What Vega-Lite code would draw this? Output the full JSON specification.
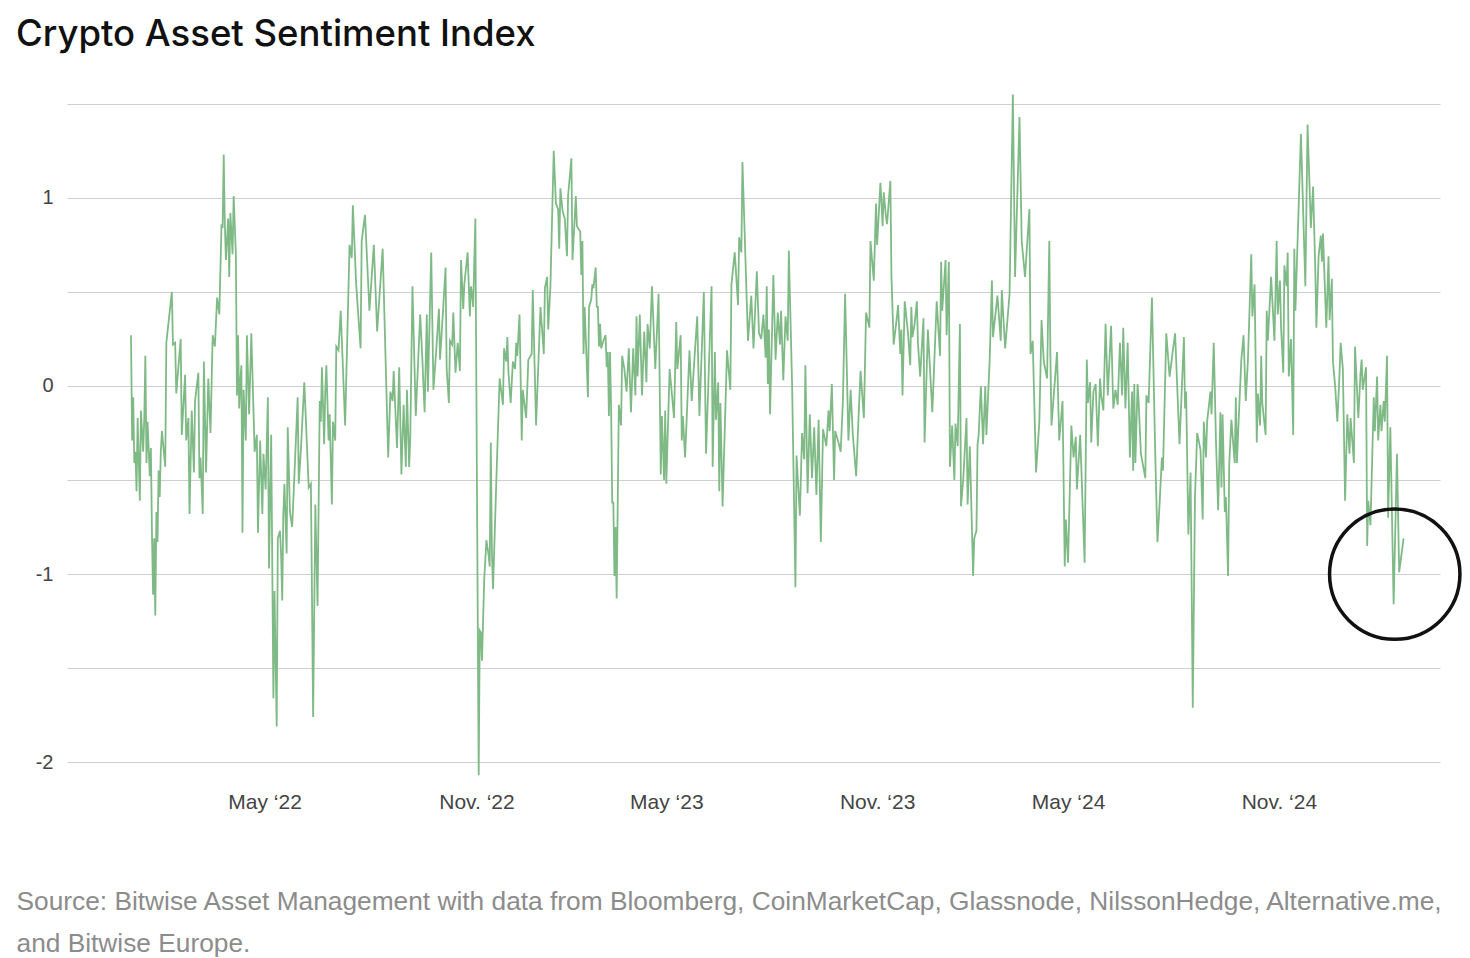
{
  "$schema": "https://vega.github.io/schema/vega-lite/v6.json",
  "width": 1373,
  "height": 696,
  "autosize": {"type": "none"},
  "padding": {"left": 67, "top": 85, "right": 30, "bottom": 177},
  "background": "white",
  "title": {"text": "Crypto Asset Sentiment Index", "anchor": "start", "frame": "group", "dx": -51, "offset": 37, "dy": 34, "baseline": "alphabetic", "font": "Inter", "fontSize": 36.5, "fontWeight": 500, "color": "#111111"},
  "config": {"view": {"stroke": null}},
  "datasets": {
    "sentiment": [
      {"date":"2021-12-29","value":0.27},{"date":"2021-12-30","value":-0.29},{"date":"2021-12-31","value":-0.06},
      {"date":"2022-01-01","value":-0.41},{"date":"2022-01-02","value":-0.35},{"date":"2022-01-03","value":-0.56},{"date":"2022-01-04","value":-0.17},{"date":"2022-01-06","value":-0.61},{"date":"2022-01-07","value":-0.13},{"date":"2022-01-09","value":-0.35},{"date":"2022-01-10","value":-0.18},{"date":"2022-01-11","value":0.16},{"date":"2022-01-12","value":-0.41},{"date":"2022-01-13","value":-0.19},{"date":"2022-01-15","value":-0.48},{"date":"2022-01-16","value":-0.33},{"date":"2022-01-17","value":-0.79},{"date":"2022-01-18","value":-1.11},{"date":"2022-01-19","value":-0.81},{"date":"2022-01-20","value":-1.22},{"date":"2022-01-21","value":-0.67},{"date":"2022-01-22","value":-0.83},{"date":"2022-01-23","value":-0.45},{"date":"2022-01-24","value":-0.59},{"date":"2022-01-25","value":-0.35},{"date":"2022-01-26","value":-0.24},{"date":"2022-01-29","value":-0.43},{"date":"2022-01-30","value":0.23},
      {"date":"2022-02-04","value":0.50},{"date":"2022-02-05","value":0.22},{"date":"2022-02-07","value":0.23},{"date":"2022-02-08","value":-0.04},{"date":"2022-02-12","value":0.25},{"date":"2022-02-13","value":-0.26},{"date":"2022-02-16","value":0.06},{"date":"2022-02-17","value":-0.29},{"date":"2022-02-19","value":-0.17},{"date":"2022-02-20","value":-0.68},{"date":"2022-02-22","value":-0.13},{"date":"2022-02-24","value":-0.46},{"date":"2022-02-25","value":-0.08},{"date":"2022-02-28","value":0.07},
      {"date":"2022-03-01","value":-0.49},{"date":"2022-03-02","value":-0.38},{"date":"2022-03-04","value":-0.68},{"date":"2022-03-05","value":0.13},{"date":"2022-03-07","value":-0.46},{"date":"2022-03-09","value":0.04},{"date":"2022-03-11","value":-0.25},{"date":"2022-03-13","value":0.27},{"date":"2022-03-15","value":0.21},{"date":"2022-03-17","value":0.47},{"date":"2022-03-19","value":0.38},{"date":"2022-03-21","value":0.86},{"date":"2022-03-22","value":0.84},{"date":"2022-03-23","value":1.23},{"date":"2022-03-24","value":0.86},{"date":"2022-03-25","value":0.67},{"date":"2022-03-27","value":0.89},{"date":"2022-03-28","value":0.58},{"date":"2022-03-29","value":0.92},{"date":"2022-03-31","value":0.70},
      {"date":"2022-04-01","value":1.01},{"date":"2022-04-03","value":0.70},{"date":"2022-04-04","value":-0.05},{"date":"2022-04-05","value":0.27},{"date":"2022-04-06","value":-0.12},{"date":"2022-04-07","value":0.02},{"date":"2022-04-08","value":0.11},{"date":"2022-04-09","value":-0.78},{"date":"2022-04-10","value":-0.02},{"date":"2022-04-12","value":-0.29},{"date":"2022-04-13","value":0.27},{"date":"2022-04-15","value":-0.15},{"date":"2022-04-17","value":0.28},{"date":"2022-04-20","value":-0.35},{"date":"2022-04-22","value":-0.26},{"date":"2022-04-23","value":-0.78},{"date":"2022-04-25","value":-0.29},{"date":"2022-04-27","value":-0.68},{"date":"2022-04-28","value":-0.36},{"date":"2022-04-30","value":-0.55},
      {"date":"2022-05-02","value":-0.06},{"date":"2022-05-03","value":-0.97},{"date":"2022-05-05","value":-0.26},{"date":"2022-05-07","value":-1.66},{"date":"2022-05-08","value":-1.09},{"date":"2022-05-10","value":-1.81},{"date":"2022-05-11","value":-0.81},{"date":"2022-05-13","value":-0.77},{"date":"2022-05-14","value":-0.90},{"date":"2022-05-15","value":-1.14},{"date":"2022-05-16","value":-0.68},{"date":"2022-05-17","value":-0.52},{"date":"2022-05-19","value":-0.89},{"date":"2022-05-20","value":-0.22},{"date":"2022-05-22","value":-0.67},{"date":"2022-05-24","value":-0.75},{"date":"2022-05-26","value":-0.48},{"date":"2022-05-29","value":-0.06},{"date":"2022-05-30","value":-0.52},
      {"date":"2022-06-01","value":-0.33},{"date":"2022-06-04","value":0.02},{"date":"2022-06-08","value":-0.54},{"date":"2022-06-10","value":-0.52},{"date":"2022-06-12","value":-1.76},{"date":"2022-06-14","value":-0.63},{"date":"2022-06-16","value":-1.17},{"date":"2022-06-18","value":-0.08},{"date":"2022-06-19","value":-0.19},{"date":"2022-06-20","value":0.10},{"date":"2022-06-22","value":-0.31},{"date":"2022-06-23","value":-0.03},{"date":"2022-06-24","value":0.11},{"date":"2022-06-26","value":-0.29},{"date":"2022-06-27","value":-0.15},{"date":"2022-06-29","value":-0.63},{"date":"2022-06-30","value":-0.19},
      {"date":"2022-07-02","value":-0.29},{"date":"2022-07-03","value":0.21},{"date":"2022-07-05","value":0.19},{"date":"2022-07-07","value":0.40},{"date":"2022-07-11","value":-0.21},{"date":"2022-07-15","value":0.75},{"date":"2022-07-17","value":0.68},{"date":"2022-07-18","value":0.96},{"date":"2022-07-21","value":0.54},{"date":"2022-07-25","value":0.20},{"date":"2022-07-26","value":0.77},{"date":"2022-07-29","value":0.91},
      {"date":"2022-08-02","value":0.40},{"date":"2022-08-06","value":0.75},{"date":"2022-08-09","value":0.29},{"date":"2022-08-14","value":0.73},{"date":"2022-08-19","value":-0.38},{"date":"2022-08-21","value":-0.03},{"date":"2022-08-23","value":-0.08},{"date":"2022-08-24","value":0.08},{"date":"2022-08-27","value":-0.33},{"date":"2022-08-29","value":0.10},{"date":"2022-08-31","value":-0.47},
      {"date":"2022-09-02","value":-0.10},{"date":"2022-09-04","value":-0.43},{"date":"2022-09-05","value":-0.02},{"date":"2022-09-07","value":-0.43},{"date":"2022-09-08","value":-0.28},{"date":"2022-09-10","value":0.53},{"date":"2022-09-13","value":-0.16},{"date":"2022-09-17","value":0.38},{"date":"2022-09-19","value":0.14},{"date":"2022-09-21","value":-0.14},{"date":"2022-09-23","value":0.38},{"date":"2022-09-24","value":-0.03},{"date":"2022-09-27","value":0.71},{"date":"2022-09-29","value":-0.02},
      {"date":"2022-10-02","value":0.23},{"date":"2022-10-04","value":0.41},{"date":"2022-10-05","value":0.14},{"date":"2022-10-07","value":0.33},{"date":"2022-10-10","value":0.63},{"date":"2022-10-11","value":0.09},{"date":"2022-10-13","value":-0.09},{"date":"2022-10-14","value":0.24},{"date":"2022-10-16","value":0.22},{"date":"2022-10-17","value":0.39},{"date":"2022-10-19","value":0.07},{"date":"2022-10-21","value":0.23},{"date":"2022-10-23","value":0.08},{"date":"2022-10-24","value":0.67},{"date":"2022-10-26","value":0.41},{"date":"2022-10-27","value":0.54},{"date":"2022-10-30","value":0.71},
      {"date":"2022-11-01","value":0.37},{"date":"2022-11-02","value":0.53},{"date":"2022-11-03","value":0.49},{"date":"2022-11-04","value":0.42},{"date":"2022-11-06","value":0.89},{"date":"2022-11-09","value":-2.07},{"date":"2022-11-10","value":-1.30},{"date":"2022-11-11","value":-1.31},{"date":"2022-11-12","value":-1.46},{"date":"2022-11-14","value":-1.03},{"date":"2022-11-16","value":-0.82},{"date":"2022-11-18","value":-0.90},{"date":"2022-11-19","value":-0.96},{"date":"2022-11-20","value":-0.30},{"date":"2022-11-21","value":-0.89},{"date":"2022-11-22","value":-1.08},{"date":"2022-11-25","value":-0.50},{"date":"2022-11-28","value":0.04},
      {"date":"2022-12-01","value":-0.10},{"date":"2022-12-02","value":0.20},{"date":"2022-12-04","value":0.13},{"date":"2022-12-05","value":0.26},{"date":"2022-12-06","value":0.07},{"date":"2022-12-08","value":-0.09},{"date":"2022-12-10","value":0.13},{"date":"2022-12-12","value":0.09},{"date":"2022-12-13","value":0.23},{"date":"2022-12-14","value":0.16},{"date":"2022-12-16","value":0.38},{"date":"2022-12-18","value":-0.29},{"date":"2022-12-19","value":-0.02},{"date":"2022-12-22","value":-0.17},{"date":"2022-12-24","value":0.14},{"date":"2022-12-27","value":0.17},{"date":"2022-12-28","value":0.51},{"date":"2022-12-31","value":-0.21},
      {"date":"2023-01-04","value":0.42},{"date":"2023-01-07","value":0.17},{"date":"2023-01-08","value":0.52},{"date":"2023-01-10","value":0.58},{"date":"2023-01-11","value":0.30},{"date":"2023-01-13","value":0.53},{"date":"2023-01-16","value":1.25},{"date":"2023-01-18","value":0.97},{"date":"2023-01-20","value":0.94},{"date":"2023-01-21","value":0.73},{"date":"2023-01-22","value":1.05},{"date":"2023-01-24","value":0.93},{"date":"2023-01-26","value":0.89},{"date":"2023-01-28","value":0.69},{"date":"2023-01-29","value":1.01},
      {"date":"2023-02-01","value":1.21},{"date":"2023-02-02","value":0.67},{"date":"2023-02-04","value":0.89},{"date":"2023-02-05","value":1.01},{"date":"2023-02-06","value":0.85},{"date":"2023-02-09","value":0.82},{"date":"2023-02-10","value":0.59},{"date":"2023-02-11","value":0.77},{"date":"2023-02-12","value":0.17},{"date":"2023-02-13","value":0.42},{"date":"2023-02-16","value":-0.06},{"date":"2023-02-17","value":0.42},{"date":"2023-02-19","value":0.46},{"date":"2023-02-20","value":0.54},{"date":"2023-02-21","value":0.52},{"date":"2023-02-23","value":0.63},{"date":"2023-02-24","value":0.42},{"date":"2023-02-25","value":0.42},{"date":"2023-02-26","value":0.21},{"date":"2023-02-27","value":0.33},{"date":"2023-02-28","value":0.20},
      {"date":"2023-03-02","value":0.24},{"date":"2023-03-04","value":0.27},{"date":"2023-03-05","value":0.10},{"date":"2023-03-06","value":0.18},{"date":"2023-03-07","value":-0.16},{"date":"2023-03-08","value":0.18},{"date":"2023-03-09","value":-0.12},{"date":"2023-03-10","value":-0.62},{"date":"2023-03-11","value":-0.62},{"date":"2023-03-12","value":-1.01},{"date":"2023-03-13","value":-0.75},{"date":"2023-03-14","value":-1.13},{"date":"2023-03-16","value":-0.10},{"date":"2023-03-18","value":-0.21},{"date":"2023-03-19","value":0.16},{"date":"2023-03-21","value":0.09},{"date":"2023-03-23","value":-0.03},{"date":"2023-03-25","value":0.20},{"date":"2023-03-27","value":-0.14},{"date":"2023-03-29","value":0.20},{"date":"2023-03-31","value":-0.05},
      {"date":"2023-04-01","value":0.37},{"date":"2023-04-02","value":0.05},{"date":"2023-04-04","value":0.38},{"date":"2023-04-06","value":-0.05},{"date":"2023-04-08","value":0.29},{"date":"2023-04-10","value":0.02},{"date":"2023-04-11","value":0.33},{"date":"2023-04-13","value":0.20},{"date":"2023-04-15","value":0.53},{"date":"2023-04-18","value":0.09},{"date":"2023-04-21","value":0.49},{"date":"2023-04-23","value":-0.47},{"date":"2023-04-24","value":-0.16},{"date":"2023-04-26","value":-0.50},{"date":"2023-04-27","value":-0.13},{"date":"2023-04-28","value":-0.52},
      {"date":"2023-05-01","value":0.09},{"date":"2023-05-05","value":-0.17},{"date":"2023-05-07","value":0.34},{"date":"2023-05-08","value":0.09},{"date":"2023-05-11","value":0.27},{"date":"2023-05-12","value":-0.29},{"date":"2023-05-13","value":-0.16},{"date":"2023-05-15","value":-0.38},{"date":"2023-05-19","value":0.19},{"date":"2023-05-21","value":-0.08},{"date":"2023-05-26","value":0.37},{"date":"2023-05-28","value":-0.16},
      {"date":"2023-06-01","value":0.50},{"date":"2023-06-03","value":-0.36},{"date":"2023-06-08","value":0.53},{"date":"2023-06-09","value":-0.43},{"date":"2023-06-11","value":0.18},{"date":"2023-06-12","value":-0.18},{"date":"2023-06-14","value":0.02},{"date":"2023-06-15","value":-0.56},{"date":"2023-06-16","value":-0.09},{"date":"2023-06-18","value":-0.64},{"date":"2023-06-22","value":0.19},{"date":"2023-06-25","value":-0.02},{"date":"2023-06-26","value":0.54},{"date":"2023-06-29","value":0.71},
      {"date":"2023-07-02","value":0.43},{"date":"2023-07-03","value":0.79},{"date":"2023-07-05","value":0.71},{"date":"2023-07-06","value":1.19},{"date":"2023-07-11","value":0.24},{"date":"2023-07-14","value":0.48},{"date":"2023-07-16","value":0.20},{"date":"2023-07-19","value":0.61},{"date":"2023-07-21","value":0.28},{"date":"2023-07-23","value":0.25},{"date":"2023-07-25","value":0.38},{"date":"2023-07-27","value":0.15},{"date":"2023-07-28","value":0.53},{"date":"2023-07-29","value":0.01},{"date":"2023-07-30","value":0.30},{"date":"2023-07-31","value":-0.15},
      {"date":"2023-08-03","value":0.59},{"date":"2023-08-05","value":0.14},{"date":"2023-08-07","value":0.39},{"date":"2023-08-09","value":0.22},{"date":"2023-08-10","value":0.40},{"date":"2023-08-12","value":0.03},{"date":"2023-08-14","value":0.37},{"date":"2023-08-16","value":0.24},{"date":"2023-08-17","value":0.72},{"date":"2023-08-20","value":0.00},{"date":"2023-08-23","value":-1.07},{"date":"2023-08-24","value":-0.37},{"date":"2023-08-27","value":-0.69},{"date":"2023-08-29","value":-0.25},{"date":"2023-08-31","value":-0.39},
      {"date":"2023-09-01","value":0.11},{"date":"2023-09-03","value":-0.57},{"date":"2023-09-05","value":-0.15},{"date":"2023-09-07","value":-0.49},{"date":"2023-09-09","value":-0.22},{"date":"2023-09-11","value":-0.58},{"date":"2023-09-13","value":-0.18},{"date":"2023-09-15","value":-0.83},{"date":"2023-09-17","value":-0.23},{"date":"2023-09-20","value":-0.32},{"date":"2023-09-22","value":-0.13},{"date":"2023-09-23","value":-0.24},{"date":"2023-09-25","value":0.01},{"date":"2023-09-27","value":-0.50},{"date":"2023-09-28","value":-0.24},
      {"date":"2023-10-01","value":-0.30},{"date":"2023-10-03","value":-0.35},{"date":"2023-10-05","value":-0.08},{"date":"2023-10-07","value":0.49},{"date":"2023-10-10","value":-0.29},{"date":"2023-10-12","value":-0.02},{"date":"2023-10-14","value":-0.26},{"date":"2023-10-17","value":-0.48},{"date":"2023-10-19","value":-0.19},{"date":"2023-10-21","value":0.08},{"date":"2023-10-24","value":-0.17},{"date":"2023-10-26","value":0.39},{"date":"2023-10-29","value":0.31},{"date":"2023-10-30","value":0.77},
      {"date":"2023-11-02","value":0.56},{"date":"2023-11-04","value":0.97},{"date":"2023-11-05","value":0.75},{"date":"2023-11-08","value":1.08},{"date":"2023-11-10","value":0.85},{"date":"2023-11-11","value":1.03},{"date":"2023-11-13","value":0.90},{"date":"2023-11-14","value":0.86},{"date":"2023-11-17","value":1.09},{"date":"2023-11-18","value":0.58},{"date":"2023-11-20","value":0.22},{"date":"2023-11-23","value":0.37},{"date":"2023-11-24","value":0.43},{"date":"2023-11-26","value":0.17},{"date":"2023-11-27","value":0.30},{"date":"2023-11-28","value":-0.05},{"date":"2023-11-30","value":0.45},
      {"date":"2023-12-03","value":0.28},{"date":"2023-12-05","value":0.11},{"date":"2023-12-06","value":0.42},{"date":"2023-12-07","value":0.26},{"date":"2023-12-09","value":0.33},{"date":"2023-12-11","value":0.45},{"date":"2023-12-12","value":0.23},{"date":"2023-12-14","value":0.05},{"date":"2023-12-17","value":0.36},{"date":"2023-12-18","value":-0.30},{"date":"2023-12-21","value":0.30},{"date":"2023-12-25","value":-0.14},{"date":"2023-12-29","value":0.45},
      {"date":"2024-01-01","value":0.16},{"date":"2024-01-02","value":0.66},{"date":"2024-01-03","value":0.40},{"date":"2024-01-06","value":0.67},{"date":"2024-01-07","value":0.27},{"date":"2024-01-09","value":0.66},{"date":"2024-01-10","value":-0.43},{"date":"2024-01-12","value":-0.21},{"date":"2024-01-14","value":-0.50},{"date":"2024-01-15","value":-0.20},{"date":"2024-01-17","value":-0.32},{"date":"2024-01-19","value":0.33},{"date":"2024-01-20","value":-0.64},{"date":"2024-01-22","value":-0.50},{"date":"2024-01-25","value":-0.17},{"date":"2024-01-26","value":-0.63},{"date":"2024-01-28","value":-0.32},{"date":"2024-01-31","value":-1.01},
      {"date":"2024-02-01","value":-0.81},{"date":"2024-02-03","value":-0.77},{"date":"2024-02-04","value":-0.31},{"date":"2024-02-05","value":-0.26},{"date":"2024-02-07","value":0.00},{"date":"2024-02-09","value":-0.31},{"date":"2024-02-11","value":0.00},{"date":"2024-02-12","value":-0.26},{"date":"2024-02-15","value":0.14},{"date":"2024-02-17","value":0.56},{"date":"2024-02-18","value":0.26},{"date":"2024-02-20","value":0.37},{"date":"2024-02-22","value":0.48},{"date":"2024-02-25","value":0.24},{"date":"2024-02-26","value":0.51},{"date":"2024-02-29","value":0.20},
      {"date":"2024-03-04","value":0.49},{"date":"2024-03-07","value":1.55},{"date":"2024-03-09","value":0.58},{"date":"2024-03-13","value":1.43},{"date":"2024-03-15","value":0.77},{"date":"2024-03-18","value":0.58},{"date":"2024-03-22","value":0.94},{"date":"2024-03-23","value":0.17},{"date":"2024-03-25","value":0.24},{"date":"2024-03-28","value":-0.46},{"date":"2024-03-31","value":-0.19},
      {"date":"2024-04-02","value":0.35},{"date":"2024-04-04","value":0.13},{"date":"2024-04-07","value":0.04},{"date":"2024-04-09","value":0.77},{"date":"2024-04-10","value":0.16},{"date":"2024-04-11","value":-0.21},{"date":"2024-04-16","value":0.18},{"date":"2024-04-18","value":-0.29},{"date":"2024-04-21","value":-0.08},{"date":"2024-04-23","value":-0.96},{"date":"2024-04-24","value":-0.71},{"date":"2024-04-26","value":-0.94},{"date":"2024-04-29","value":-0.21},
      {"date":"2024-05-01","value":-0.38},{"date":"2024-05-03","value":-0.27},{"date":"2024-05-04","value":-0.55},{"date":"2024-05-07","value":-0.26},{"date":"2024-05-11","value":-0.94},{"date":"2024-05-13","value":0.14},{"date":"2024-05-14","value":-0.09},{"date":"2024-05-16","value":0.02},{"date":"2024-05-17","value":-0.30},{"date":"2024-05-19","value":-0.03},{"date":"2024-05-21","value":0.01},{"date":"2024-05-23","value":-0.32},{"date":"2024-05-25","value":0.04},{"date":"2024-05-26","value":-0.05},{"date":"2024-05-28","value":-0.13},{"date":"2024-05-30","value":0.33},
      {"date":"2024-06-01","value":-0.05},{"date":"2024-06-04","value":0.32},{"date":"2024-06-06","value":-0.12},{"date":"2024-06-08","value":-0.02},{"date":"2024-06-10","value":-0.10},{"date":"2024-06-12","value":0.23},{"date":"2024-06-14","value":-0.05},{"date":"2024-06-15","value":0.31},{"date":"2024-06-17","value":-0.12},{"date":"2024-06-19","value":0.23},{"date":"2024-06-21","value":-0.38},{"date":"2024-06-23","value":-0.03},{"date":"2024-06-24","value":-0.45},{"date":"2024-06-25","value":0.01},{"date":"2024-06-26","value":-0.41},{"date":"2024-06-28","value":0.01},{"date":"2024-06-29","value":-0.09},
      {"date":"2024-07-01","value":-0.36},{"date":"2024-07-05","value":-0.49},{"date":"2024-07-06","value":-0.05},{"date":"2024-07-08","value":-0.09},{"date":"2024-07-11","value":0.47},{"date":"2024-07-14","value":-0.36},{"date":"2024-07-16","value":-0.83},{"date":"2024-07-18","value":-0.62},{"date":"2024-07-20","value":-0.38},{"date":"2024-07-21","value":-0.45},{"date":"2024-07-24","value":0.28},{"date":"2024-07-27","value":0.05},{"date":"2024-07-30","value":0.19},
      {"date":"2024-08-01","value":0.28},{"date":"2024-08-05","value":-0.31},{"date":"2024-08-09","value":0.26},{"date":"2024-08-10","value":-0.12},{"date":"2024-08-11","value":-0.03},{"date":"2024-08-13","value":-0.79},{"date":"2024-08-15","value":-0.46},{"date":"2024-08-17","value":-1.71},{"date":"2024-08-19","value":-0.59},{"date":"2024-08-21","value":-0.25},{"date":"2024-08-24","value":-0.34},{"date":"2024-08-26","value":-0.71},{"date":"2024-08-27","value":-0.19},{"date":"2024-08-29","value":-0.38},{"date":"2024-08-30","value":-0.19},
      {"date":"2024-09-02","value":-0.03},{"date":"2024-09-03","value":-0.15},{"date":"2024-09-05","value":0.23},{"date":"2024-09-07","value":-0.29},{"date":"2024-09-09","value":-0.66},{"date":"2024-09-11","value":-0.14},{"date":"2024-09-12","value":-0.54},{"date":"2024-09-13","value":-0.15},{"date":"2024-09-15","value":-0.67},{"date":"2024-09-16","value":-0.59},{"date":"2024-09-18","value":-1.01},{"date":"2024-09-19","value":-0.42},{"date":"2024-09-21","value":-0.18},{"date":"2024-09-24","value":-0.41},{"date":"2024-09-25","value":-0.06},{"date":"2024-09-26","value":-0.41},{"date":"2024-09-27","value":-0.26},{"date":"2024-09-30","value":0.14},
      {"date":"2024-10-02","value":0.27},{"date":"2024-10-04","value":-0.08},{"date":"2024-10-06","value":0.14},{"date":"2024-10-09","value":0.70},{"date":"2024-10-10","value":0.37},{"date":"2024-10-12","value":0.54},{"date":"2024-10-14","value":-0.30},{"date":"2024-10-15","value":-0.04},{"date":"2024-10-17","value":-0.21},{"date":"2024-10-18","value":0.16},{"date":"2024-10-19","value":-0.09},{"date":"2024-10-22","value":-0.26},{"date":"2024-10-23","value":0.40},{"date":"2024-10-24","value":0.24},{"date":"2024-10-27","value":0.58},{"date":"2024-10-30","value":0.24},
      {"date":"2024-11-01","value":0.77},{"date":"2024-11-02","value":0.38},{"date":"2024-11-04","value":0.56},{"date":"2024-11-05","value":0.31},{"date":"2024-11-07","value":0.07},{"date":"2024-11-08","value":0.64},{"date":"2024-11-10","value":0.53},{"date":"2024-11-11","value":0.71},{"date":"2024-11-12","value":0.05},{"date":"2024-11-14","value":0.25},{"date":"2024-11-16","value":-0.26},{"date":"2024-11-17","value":0.73},{"date":"2024-11-18","value":0.40},{"date":"2024-11-23","value":1.34},{"date":"2024-11-27","value":0.53},{"date":"2024-11-29","value":1.39},
      {"date":"2024-12-02","value":0.84},{"date":"2024-12-04","value":1.06},{"date":"2024-12-06","value":0.62},{"date":"2024-12-07","value":0.31},{"date":"2024-12-09","value":0.69},{"date":"2024-12-11","value":0.80},{"date":"2024-12-12","value":0.66},{"date":"2024-12-13","value":0.81},{"date":"2024-12-15","value":0.47},{"date":"2024-12-16","value":0.31},{"date":"2024-12-18","value":0.69},{"date":"2024-12-19","value":0.35},{"date":"2024-12-21","value":0.57},{"date":"2024-12-22","value":0.13},{"date":"2024-12-24","value":0.00},{"date":"2024-12-26","value":-0.19},{"date":"2024-12-28","value":0.07},{"date":"2024-12-29","value":0.23},{"date":"2024-12-31","value":0.09},
      {"date":"2025-01-02","value":-0.61},{"date":"2025-01-04","value":-0.15},{"date":"2025-01-06","value":-0.36},{"date":"2025-01-07","value":-0.17},{"date":"2025-01-10","value":-0.41},{"date":"2025-01-11","value":0.21},{"date":"2025-01-14","value":-0.17},{"date":"2025-01-16","value":0.07},{"date":"2025-01-17","value":0.14},{"date":"2025-01-18","value":-0.02},{"date":"2025-01-21","value":0.10},{"date":"2025-01-22","value":-0.85},{"date":"2025-01-23","value":-0.61},{"date":"2025-01-25","value":-0.74},{"date":"2025-01-28","value":-0.06},{"date":"2025-01-29","value":-0.24},{"date":"2025-01-31","value":0.05},
      {"date":"2025-02-01","value":-0.29},{"date":"2025-02-03","value":-0.10},{"date":"2025-02-04","value":-0.24},{"date":"2025-02-06","value":-0.08},{"date":"2025-02-07","value":-0.19},{"date":"2025-02-09","value":0.16},{"date":"2025-02-10","value":-0.70},{"date":"2025-02-12","value":-0.22},{"date":"2025-02-15","value":-1.16},{"date":"2025-02-18","value":-0.36},{"date":"2025-02-20","value":-0.99},{"date":"2025-02-24","value":-0.81}
    ],
    "marker": [{"date": "2025-02-16", "value": -1.0}]
  },
  "encoding": {
    "x": {
      "field": "date",
      "type": "temporal",
      "scale": {"type": "utc", "domain": [{"year": 2021, "month": 11, "date": 1, "utc": true}, {"year": 2025, "month": 3, "date": 29, "utc": true}]},
      "axis": {
        "values": [
          {"year": 2022, "month": 4, "date": 29, "utc": true},
          {"year": 2022, "month": 11, "date": 7, "utc": true},
          {"year": 2023, "month": 4, "date": 28, "utc": true},
          {"year": 2023, "month": 11, "date": 5, "utc": true},
          {"year": 2024, "month": 4, "date": 26, "utc": true},
          {"year": 2024, "month": 11, "date": 3, "utc": true}
        ],
        "labelExpr": "(utcmonth(datum.value) <= 5 ? 'May ‘' : 'Nov. ‘') + utcFormat(datum.value, '%y')",
        "grid": false, "domain": false, "ticks": false,
        "labelFont": "Liberation Sans", "labelFontSize": 21, "labelColor": "#444444", "labelPadding": 10,
        "labelFlush": false, "labelOverlap": false,
        "title": ["Source: Bitwise Asset Management with data from Bloomberg, CoinMarketCap, Glassnode, NilssonHedge, Alternative.me,", "and Bitwise Europe."],
        "titleFont": "Liberation Sans", "titleFontSize": 26.3, "titleFontWeight": "normal", "titleColor": "#8c8c8c",
        "titleAnchor": "start", "titleAlign": "left", "titleBaseline": "alphabetic", "titleX": -51, "titleY": 128, "titleLineHeight": 42
      }
    },
    "y": {
      "field": "value",
      "type": "quantitative",
      "scale": {"domain": [-2.1, 1.6], "nice": false, "zero": false},
      "axis": {
        "values": [-2, -1.5, -1, -0.5, 0, 0.5, 1, 1.5],
        "labelExpr": "datum.value % 1 == 0 ? '' + datum.value : ''",
        "grid": true, "gridColor": "#cfcfcf", "gridWidth": 1,
        "domain": false, "ticks": false,
        "labelFont": "Liberation Sans", "labelFontSize": 20, "labelColor": "#444444", "labelPadding": 14,
        "title": null
      }
    }
  },
  "layer": [
    {"data": {"name": "sentiment"}, "mark": {"type": "line", "color": "#7fba86", "strokeWidth": 1.8}},
    {"data": {"name": "marker"}, "mark": {"type": "point", "shape": "circle", "size": 17000, "filled": false, "stroke": "#111111", "strokeWidth": 3.5, "opacity": 1}}
  ]
}
